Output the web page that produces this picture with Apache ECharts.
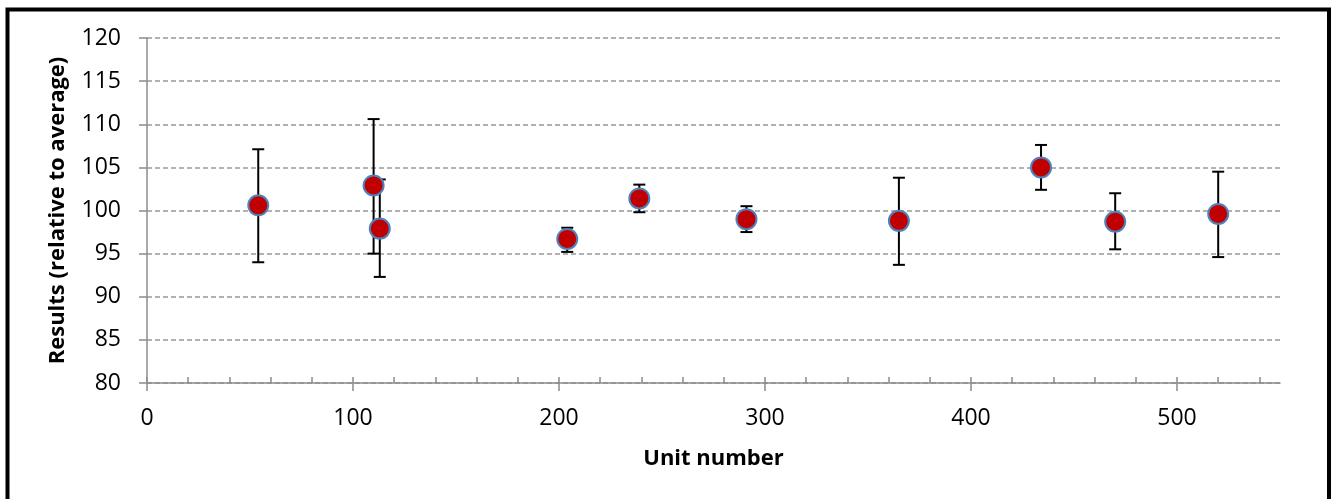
<!DOCTYPE html>
<html>
<head>
<meta charset="utf-8">
<script src="https://cdn.jsdelivr.net/npm/echarts@6/dist/echarts.min.js"></script>
<style>
  html, body { margin: 0; padding: 0; background: #fff; }
  #chart { width: 1336px; height: 499px; }
</style>
</head>
<body>
<div id="chart"></div>
<script>
// unit number, result and error bar ends
const units = [54, 110, 113, 204, 239, 291, 365, 434, 470, 520]
const results = [100.6, 102.9, 97.9, 96.7, 101.4, 99.0, 98.8, 105.0, 98.7, 99.6]
const lows = [94.0, 95.0, 92.3, 95.2, 99.8, 97.5, 93.7, 102.4, 95.5, 94.6]
const highs = [107.1, 110.6, 103.6, 98.0, 103.0, 100.5, 103.8, 107.6, 102.0, 104.5]

const xTicks = [0, 20, 40, 60, 80, 100, 120, 140, 160, 180, 200, 220, 240, 260, 280, 300,
  320, 340, 360, 380, 400, 420, 440, 460, 480, 500, 520, 540]
const xLabels = [0, 100, 200, 300, 400, 500]

const font = 'Open Sans, Liberation Sans, sans-serif'
const axisGray = '#8c8c8c'

const points = units.map((u, i) => [u, results[i]])
const bars = units.map((u, i) => [u, lows[i], highs[i]])

let myChart = echarts.init(document.getElementById('chart'))

let option = {
  animation: false,
  backgroundColor: '#fff',
  graphic: [
    {
      type: 'rect',
      shape: { x: 7.5, y: 9.5, width: 1321.5, height: 500 },
      style: { fill: 'none', stroke: '#000', lineWidth: 4 },
      silent: true,
    },
  ],
  grid: {
    left: 147,
    right: 56,
    top: 38,
    bottom: 116,
  },
  xAxis: [
    {
      type: 'value',
      min: 0,
      max: 550,
      name: 'Unit number',
      nameLocation: 'middle',
      nameGap: 65,
      nameTextStyle: { fontFamily: font, fontSize: 22, fontWeight: 'bold', color: '#000' },
      axisLine: { lineStyle: { color: axisGray, width: 1.5 } },
      axisTick: { show: true, inside: true, length: 6, customValues: xTicks, lineStyle: { color: axisGray, width: 1.5 } },
      axisLabel: { customValues: xLabels, margin: 24, fontFamily: font, fontSize: 23, color: '#000' },
      splitLine: { show: false },
    },
    {
      type: 'value',
      min: 0,
      max: 550,
      position: 'bottom',
      axisLine: { show: false },
      axisTick: { show: true, inside: false, length: 8, customValues: xLabels, lineStyle: { color: axisGray, width: 1.5 } },
      axisLabel: { show: false },
      splitLine: { show: false },
    },
  ],
  yAxis: {
    type: 'value',
    min: 80,
    max: 120,
    interval: 5,
    name: 'Results (relative to average)',
    nameLocation: 'middle',
    nameGap: 78,
    nameTextStyle: { fontFamily: font, fontSize: 22, fontWeight: 'bold', color: '#000' },
    axisLine: { show: true, lineStyle: { color: axisGray, width: 1.5 } },
    axisTick: { show: true, length: 8, lineStyle: { color: axisGray, width: 1.5 } },
    axisLabel: { margin: 26, fontFamily: font, fontSize: 23, color: '#000' },
    splitLine: { show: true, lineStyle: { color: '#999', type: [5, 3], width: 1.5 } },
  },
  series: [
    {
      // error bars
      type: 'custom',
      data: bars,
      z: 2,
      renderItem: function (params, api) {
        const x = api.value(0)
        const lo = api.coord([x, api.value(1)])
        const hi = api.coord([x, api.value(2)])
        const cap = 6
        const style = { stroke: '#000', lineWidth: 2 }
        return {
          type: 'group',
          children: [
            { type: 'line', shape: { x1: lo[0], y1: lo[1], x2: hi[0], y2: hi[1] }, style },
            { type: 'line', shape: { x1: hi[0] - cap, y1: hi[1], x2: hi[0] + cap, y2: hi[1] }, style },
            { type: 'line', shape: { x1: lo[0] - cap, y1: lo[1], x2: lo[0] + cap, y2: lo[1] }, style },
          ],
        }
      },
    },
    {
      type: 'scatter',
      data: points,
      z: 3,
      symbol: 'circle',
      symbolSize: 20,
      itemStyle: { color: '#C00000', borderColor: '#4F81BD', borderWidth: 2, opacity: 1 },
    },
  ],
}

myChart.setOption(option)
</script>
</body>
</html>
